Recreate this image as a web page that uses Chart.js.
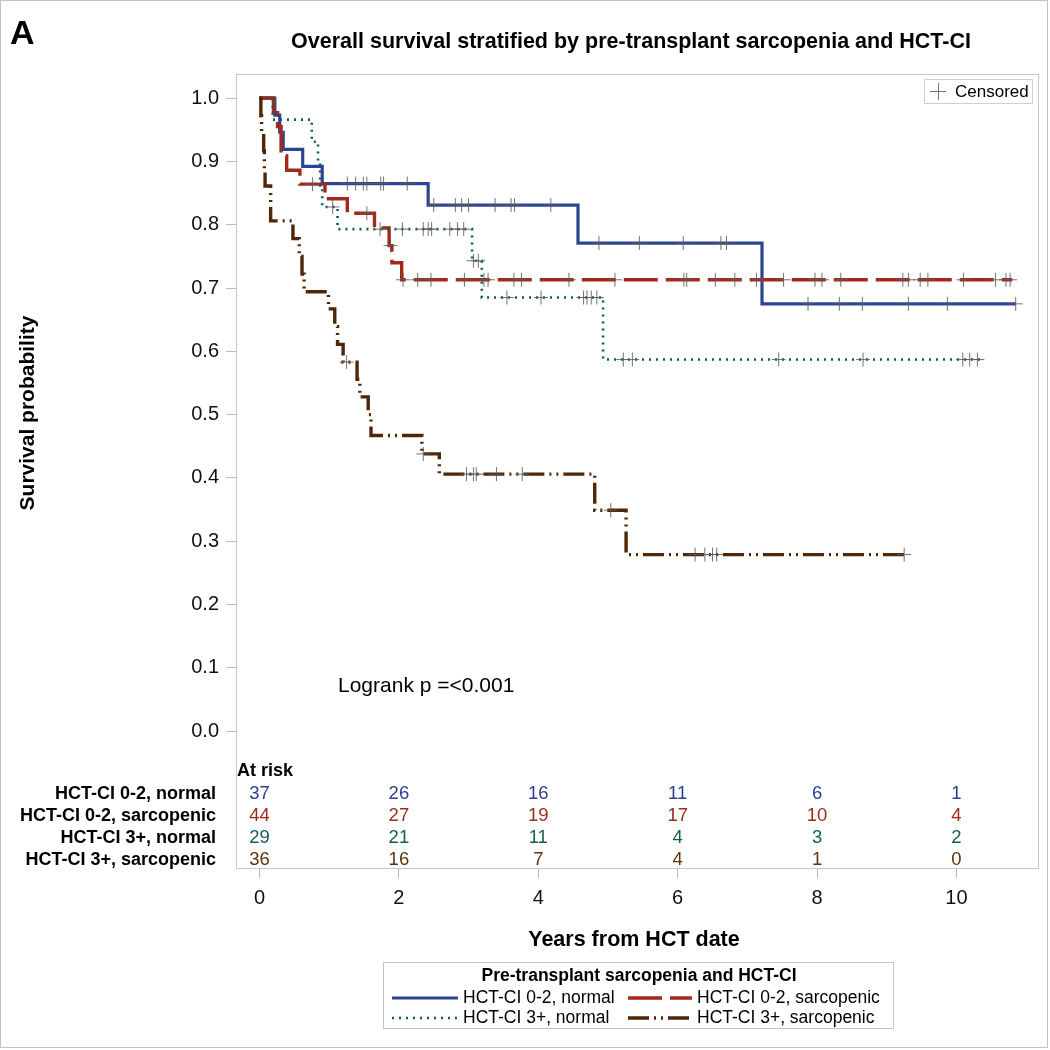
<!DOCTYPE html>
<html>
<head>
<meta charset="utf-8">
<script src="https://cdn.jsdelivr.net/npm/chart.js@4.4.1/dist/chart.umd.min.js"></script>
<style>
  body { margin: 0; background: #fff; }
  canvas { display: block; }
</style>
</head>
<body>
<canvas id="km" width="1050" height="1050"></canvas>
<script>
// groups
const groupNames = ['HCT-CI 0-2, normal', 'HCT-CI 0-2, sarcopenic', 'HCT-CI 3+, normal', 'HCT-CI 3+, sarcopenic'];
const groupColors = ['#2c4593', '#a3291c', '#0d5e4e', '#4f2608'];
const riskColors = ['#2c3f8f', '#9e2a1b', '#155e4d', '#5b330e'];

// KM steps (time in years, survival after the step)
const normal02Times = [0, 0.22, 0.29, 0.34, 0.62, 0.90, 2.42, 4.57, 7.21, 10.85];
const normal02Surv  = [1, 0.973, 0.946, 0.919, 0.892, 0.865, 0.831, 0.771, 0.675, 0.675];
const normal02Cens  = [1.26, 1.38, 1.49, 1.54, 1.74, 1.78, 2.12, 2.50, 2.81, 2.90, 3.00, 3.38, 3.61, 3.66, 4.18,
                       4.87, 5.45, 6.08, 6.62, 6.70, 7.87, 8.32, 8.65, 9.31, 9.87, 10.85];

const sarc02Times = [0, 0.20, 0.26, 0.31, 0.39, 0.58, 0.94, 1.26, 1.65, 1.86, 1.90, 2.04, 10.80];
const sarc02Surv  = [1, 0.977, 0.955, 0.909, 0.886, 0.864, 0.841, 0.818, 0.795, 0.767, 0.740, 0.713, 0.713];
const sarc02Cens  = [0.76, 1.54, 1.88, 2.06, 2.27, 2.46, 2.94, 3.22, 3.28, 3.65, 3.76, 4.44, 5.10, 6.09, 6.13, 6.54,
                     6.82, 7.13, 7.52, 7.97, 8.07, 8.34, 9.23, 9.31, 9.48, 9.59, 10.10, 10.56, 10.71, 10.77];

const normal3Times = [0, 0.19, 0.75, 0.84, 0.87, 0.90, 1.12, 3.05, 3.19, 4.93, 10.38];
const normal3Surv  = [1, 0.966, 0.931, 0.897, 0.862, 0.828, 0.793, 0.743, 0.685, 0.587, 0.587];
const normal3Cens  = [1.05, 1.73, 2.05, 2.35, 2.42, 2.47, 2.73, 2.84, 2.93, 3.07, 3.14, 3.55, 4.04, 4.65, 4.70,
                      4.76, 4.84, 5.22, 5.35, 7.45, 8.66, 10.09, 10.19, 10.30];

const sarc3Times = [0, 0.02, 0.03, 0.06, 0.07, 0.08, 0.16, 0.48, 0.57, 0.61, 0.64, 0.99, 1.08, 1.12, 1.20,
                    1.40, 1.44, 1.56, 1.60, 2.33, 2.58, 4.81, 5.26, 9.32];
const sarc3Surv  = [1, 0.972, 0.944, 0.917, 0.889, 0.861, 0.806, 0.778, 0.750, 0.722, 0.694, 0.667, 0.639, 0.611, 0.583,
                    0.556, 0.528, 0.500, 0.467, 0.438, 0.406, 0.349, 0.279, 0.279];
const sarc3Cens  = [1.25, 2.35, 2.97, 3.07, 3.11, 3.40, 3.77, 5.04, 6.25, 6.39, 6.50, 6.56, 9.25];

// number at risk table
const riskTimes = [0, 2, 4, 6, 8, 10];
const riskNormal02 = [37, 26, 16, 11, 6, 1];
const riskSarc02   = [44, 27, 19, 17, 10, 4];
const riskNormal3  = [29, 21, 11, 4, 3, 2];
const riskSarc3    = [36, 16, 7, 4, 1, 0];

const xTicks = [0, 2, 4, 6, 8, 10];
const yTicks = [0, 0.1, 0.2, 0.3, 0.4, 0.5, 0.6, 0.7, 0.8, 0.9, 1.0];

const dashes = [[], [34, 8], [2, 5], [21, 5, 2, 5, 2, 5]];
const widths = [3.2, 3.4, 2.6, 3.4];

const allTimes = [normal02Times, sarc02Times, normal3Times, sarc3Times];
const allSurv = [normal02Surv, sarc02Surv, normal3Surv, sarc3Surv];
const allCens = [normal02Cens, sarc02Cens, normal3Cens, sarc3Cens];
const allRisk = [riskNormal02, riskSarc02, riskNormal3, riskSarc3];

function survAt(times, surv, t) {
  let s = surv[0];
  for (let i = 0; i < times.length; i++) {
    if (times[i] <= t) s = surv[i];
  }
  return s;
}

const datasets = [];
for (let g = 0; g < 4; g++) {
  datasets.push({
    label: groupNames[g],
    data: allTimes[g].map((t, i) => ({ x: t, y: allSurv[g][i] })),
    borderColor: groupColors[g],
    borderWidth: widths[g],
    borderDash: dashes[g],
    stepped: 'before',
    pointRadius: 0,
    fill: false,
    order: 4 - g
  });
}
for (let g = 0; g < 4; g++) {
  datasets.push({
    label: 'Censored',
    data: allCens[g].map(t => ({ x: t, y: survAt(allTimes[g], allSurv[g], t) })),
    showLine: false,
    pointStyle: 'cross',
    pointRadius: 7,
    pointBorderWidth: 1,
    pointBorderColor: 'rgba(90,90,90,0.85)',
    order: 0
  });
}

const FONT = '"Liberation Sans", Arial, sans-serif';

const decor = {
  id: 'decor',
  beforeDraw(chart) {
    const ctx = chart.ctx;
    const a = chart.chartArea;
    ctx.save();
    ctx.fillStyle = '#fff';
    ctx.fillRect(0, 0, chart.width, chart.height);
    ctx.strokeStyle = '#c4c4c4';
    ctx.lineWidth = 1;
    ctx.strokeRect(0.5, 0.5, chart.width - 3, chart.height - 3);
    ctx.strokeStyle = '#c8c8c8';
    ctx.strokeRect(Math.round(a.left) + 0.5, Math.round(a.top) + 0.5, Math.round(a.right - a.left), Math.round(a.bottom - a.top));
    ctx.restore();
  },
  afterDraw(chart) {
    const ctx = chart.ctx;
    const a = chart.chartArea;
    const xs = chart.scales.x;
    ctx.save();
    ctx.fillStyle = '#000';

    // panel letter and title
    ctx.font = 'bold 34px ' + FONT;
    ctx.textAlign = 'left';
    ctx.textBaseline = 'alphabetic';
    ctx.fillText('A', 10, 44);
    ctx.font = 'bold 21.5px ' + FONT;
    ctx.textAlign = 'center';
    ctx.fillText('Overall survival stratified by pre-transplant sarcopenia and HCT-CI', 631, 48);

    // axis titles
    ctx.font = 'bold 21.5px ' + FONT;
    ctx.textBaseline = 'middle';
    ctx.fillText('Years from HCT date', 634, 940);
    ctx.save();
    ctx.translate(28, 413);
    ctx.rotate(-Math.PI / 2);
    ctx.font = 'bold 21px ' + FONT;
    ctx.fillText('Survival probability', 0, 0);
    ctx.restore();

    // logrank
    ctx.font = '21px ' + FONT;
    ctx.textAlign = 'left';
    ctx.fillText('Logrank p =<0.001', 338, 686);

    // at risk table
    ctx.font = 'bold 18px ' + FONT;
    ctx.fillText('At risk', a.left + 1, a.bottom - 97);
    const rowY = [a.bottom - 74, a.bottom - 52, a.bottom - 30, a.bottom - 8];
    for (let g = 0; g < 4; g++) {
      ctx.font = 'bold 18px ' + FONT;
      ctx.textAlign = 'right';
      ctx.fillStyle = '#000';
      ctx.fillText(groupNames[g], 216, rowY[g]);
      ctx.font = '18.5px ' + FONT;
      ctx.textAlign = 'center';
      ctx.fillStyle = riskColors[g];
      riskTimes.forEach((t, i) => {
        ctx.fillText(String(allRisk[g][i]), xs.getPixelForValue(t), rowY[g]);
      });
    }

    // censored legend (top right)
    ctx.strokeStyle = '#cfcfcf';
    ctx.lineWidth = 1;
    ctx.strokeRect(924.5, 79.5, 108, 24);
    ctx.strokeStyle = '#777';
    ctx.beginPath();
    ctx.moveTo(930, 91.5); ctx.lineTo(946, 91.5);
    ctx.moveTo(938.5, 83); ctx.lineTo(938.5, 100);
    ctx.stroke();
    ctx.fillStyle = '#000';
    ctx.font = '17px ' + FONT;
    ctx.textAlign = 'left';
    ctx.fillText('Censored', 955, 92);

    // group legend (bottom)
    ctx.strokeStyle = '#c4c4c4';
    ctx.strokeRect(383.5, 962.5, 510, 66);
    ctx.font = 'bold 17.5px ' + FONT;
    ctx.textAlign = 'center';
    ctx.fillText('Pre-transplant sarcopenia and HCT-CI', 639, 976);
    const legX = [[392, 458, 463], [628, 692, 697], [392, 458, 463], [628, 692, 697]];
    const legY = [998, 998, 1018, 1018];
    for (let g = 0; g < 4; g++) {
      ctx.strokeStyle = groupColors[g];
      ctx.lineWidth = widths[g];
      ctx.setLineDash(dashes[g]);
      ctx.beginPath();
      ctx.moveTo(legX[g][0], legY[g]);
      ctx.lineTo(legX[g][1], legY[g]);
      ctx.stroke();
      ctx.setLineDash([]);
      ctx.fillStyle = '#000';
      ctx.font = '17.5px ' + FONT;
      ctx.textAlign = 'left';
      ctx.fillText(groupNames[g], legX[g][2], legY[g]);
    }
    ctx.restore();
  }
};

new Chart(document.getElementById('km'), {
  type: 'line',
  data: { datasets: datasets },
  options: {
    responsive: false,
    animation: false,
    devicePixelRatio: 1,
    layout: { padding: { top: 74, right: 12, left: 0, bottom: 0 } },
    plugins: {
      legend: { display: false },
      tooltip: { enabled: false },
      title: { display: false }
    },
    scales: {
      x: {
        type: 'linear',
        min: -0.337,
        max: 11.17,
        afterBuildTicks: s => { s.ticks = xTicks.map(v => ({ value: v })); },
        afterFit: s => { s.height = 182; },
        border: { display: false },
        grid: { drawOnChartArea: false, drawTicks: true, tickLength: 10, color: '#bbb' },
        ticks: { color: '#111', font: { size: 20, family: FONT }, padding: 8, maxRotation: 0 }
      },
      y: {
        type: 'linear',
        min: -0.216,
        max: 1.038,
        afterBuildTicks: s => { s.ticks = yTicks.map(v => ({ value: v })); },
        afterFit: s => { s.width = 236; },
        border: { display: false },
        grid: { drawOnChartArea: false, drawTicks: true, tickLength: 10, color: '#bbb' },
        ticks: { color: '#111', font: { size: 20, family: FONT }, padding: 7,
                 callback: v => v.toFixed(1) }
      }
    }
  },
  plugins: [decor]
});
</script>
</body>
</html>
